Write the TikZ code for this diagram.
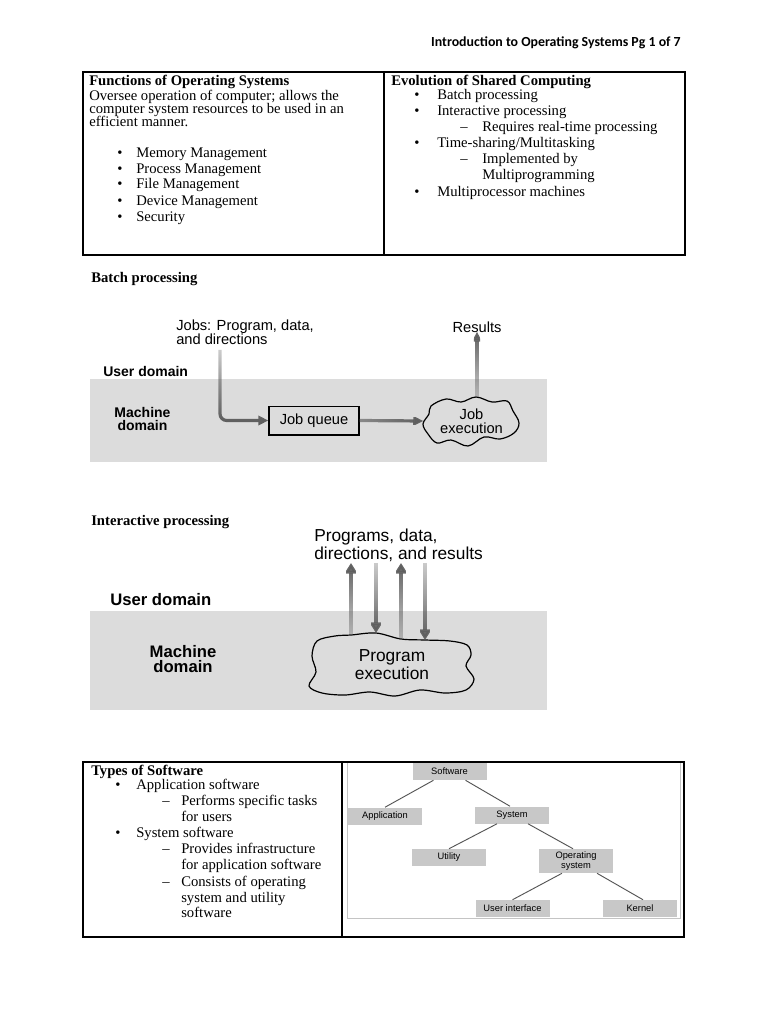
\documentclass[tikz,border=0pt]{standalone}
\usepackage{fontspec}
\setmainfont{Liberation Serif}
\newfontfamily\diasans{Liberation Sans}
\newfontfamily\hdrfont{Carlito}
\usetikzlibrary{arrows.meta,calc,fadings}
\definecolor{bandgray}{HTML}{DCDCDC}
\definecolor{arrgray}{HTML}{5E5E5E}
\definecolor{treebox}{HTML}{C8C8C8}
\definecolor{treeline}{HTML}{555555}
\definecolor{framegray}{HTML}{C4C4C4}
\tikzfading[name=fadebottom, top color=transparent!0, bottom color=transparent!70]
\tikzfading[name=fadetop, top color=transparent!70, bottom color=transparent!0]
\tikzfading[name=fadeleft, left color=transparent!35, right color=transparent!0]
\tikzset{
  body/.style={anchor=base west, inner sep=0, font=\fontsize{11}{13}\selectfont},
  bodyb/.style={anchor=base west, inner sep=0, font=\fontsize{11}{13}\selectfont\bfseries},
  tbl/.style={draw=black, line width=0.8pt},
  band/.style={fill=bandgray},
  lblA/.style={font=\diasans\fontsize{11}{10.5}\selectfont, inner sep=0},
  lblAb/.style={font=\diasans\bfseries\fontsize{10.5}{10}\selectfont, inner sep=0},
  lblB/.style={font=\diasans\fontsize{13}{11.5}\selectfont, inner sep=0},
  lblBb/.style={font=\diasans\bfseries\fontsize{12.5}{11}\selectfont, inner sep=0},
  garrowA/.style={draw=arrgray, line width=2.4pt, -{Triangle[length=7.5pt,width=7pt]}},
  garrowB/.style={draw=arrgray, line width=3.6pt, -{Triangle[length=8pt,width=9.5pt]}},
  cloudline/.style={draw=black, line width=0.9pt, fill=bandgray},
  tbox/.style={fill=treebox, minimum width=55.5pt, minimum height=12.75pt, inner sep=0, font=\diasans\fontsize{7}{7.5}\selectfont, align=center},
  tline/.style={draw=treeline, line width=0.7pt},
}
\begin{document}
\begin{tikzpicture}[x=0.75pt,y=-0.75pt]
\useasboundingbox (0,0) rectangle (768,1024);
\fill[white] (0,0) rectangle (768,1024);

% header
\node[anchor=base east, inner sep=0, font=\hdrfont\bfseries\fontsize{10.4}{12}\selectfont] (hdr) at (681,47) {Introduction to Operating Systems Pg 1 of 7};

% top table
\draw[tbl] (83,72) rectangle (685,255);
\draw[tbl] (384,72) -- (384,255);
\node[bodyb] (fh) at (89,85.5) {Functions of Operating Systems};
\node[body] (f1) at (89,100) {Oversee operation of computer; allows the};
\node[body] (f2) at (89,113.5) {computer system resources to be used in an};
\node[body] (f3) at (89,127) {efficient manner.};
\foreach \t/\y [count=\i] in {Memory Management/157, Process Management/173, File Management/188.5, Device Management/205, Security/221}{
  \node[body] (fb\i) at (117,\y) {•};
  \node[body] (ft\i) at (136,\y) {\t};
}
\node[bodyb] (eh) at (391,85.5) {Evolution of Shared Computing};
\node[body] (eb1) at (414,99.5) {•};  \node[body] (et1) at (437,99.5) {Batch processing};
\node[body] (eb2) at (414,115.5) {•}; \node[body] (et2) at (437,115.5) {Interactive processing};
\node[body] (ed1) at (460,131.5) {–}; \node[body] (es1) at (482,131.5) {Requires real-time processing};
\node[body] (eb3) at (414,147.5) {•}; \node[body] (et3) at (437,147.5) {Time-sharing/Multitasking};
\node[body] (ed2) at (460,163.5) {–}; \node[body] (es2) at (482,163.5) {Implemented by};
\node[body] (es3) at (482,179.5) {Multiprogramming};
\node[body] (eb4) at (414,196) {•}; \node[body] (et4) at (437,196) {Multiprocessor machines};

% batch processing
\node[bodyb] (bp) at (91,282) {Batch processing};
\fill[band] (90,379) rectangle (547,462);
\node[lblAb, anchor=west] (ud1) at (103,371) {User domain};
\node[lblAb, align=center] (md1) at (142.5,419) {Machine\\domain};
\node[lblA, anchor=west, align=left] (jobs) at (176,332) {Jobs: Program, data,\\and directions};
\node[lblA] (res) at (477,327) {Results};
\node[lblA, draw=black, line width=1pt, fill=bandgray, minimum width=67.5pt, minimum height=21.5pt] (jq) at (314,420.5) {Job queue};
\draw[cloudline] plot[smooth cycle, tension=0.6] coordinates {(431,406) (446,399) (461,402) (476,397) (492,402) (507,401) (513,411) (519,423) (514,433) (500,439) (484,437) (468,446) (451,440) (437,443) (428,434) (423,424) (429,414)};
\node[lblA, align=center, minimum width=72pt, minimum height=36pt] (jobex) at (471.5,421) {Job\\execution};
\coordinate (jobsfoot) at (220,350);
\draw[garrowA, rounded corners=5pt, path fading=fadetop] (jobsfoot) |- (jq.west);
\draw[garrowA, path fading=fadeleft] (jq.east) -- (jobex.west);
\draw[garrowA, path fading=fadebottom] (res.south |- jobex.north) -- ($(res.south)+(0,-1)$);

% interactive processing
\node[bodyb] (ip) at (91,525) {Interactive processing};
\fill[band] (90,611) rectangle (547,710);
\node[lblBb, anchor=west] (ud2) at (110,600) {User domain};
\node[lblBb, align=center] (md2) at (183,659) {Machine\\domain};
\node[lblB, anchor=west, align=left] (pdr) at (314,545.5) {Programs, data,\\directions, and results};
\draw[cloudline] plot[smooth cycle, tension=0.55] coordinates {(317,641) (335,636) (351,635) (376,633) (401,639) (425,640) (450,641) (467,645) (471,655) (466,666) (474,679) (466,690) (445,693) (420,690) (395,696) (370,692) (345,695) (322,693) (309,686) (316,672) (312,656)};
\node[lblB, align=center, minimum width=120pt, minimum height=46pt] (pe) at (392,664.5) {Program\\execution};
\coordinate (u1b) at (351,636); \coordinate (u1t) at (351,563);
\coordinate (d1t) at (376,563); \coordinate (d1b) at (376,633);
\coordinate (u2b) at (401,640); \coordinate (u2t) at (401,563);
\coordinate (d2t) at (425,563); \coordinate (d2b) at (425,640);
\draw[garrowB, path fading=fadebottom] (u1b) -- (u1t);
\draw[garrowB, path fading=fadetop] (d1t) -- (d1b);
\draw[garrowB, path fading=fadebottom] (u2b) -- (u2t);
\draw[garrowB, path fading=fadetop] (d2t) -- (d2b);

% bottom table
\draw[tbl] (83,762) rectangle (684,937);
\draw[tbl] (342,762) -- (342,937);
\node[bodyb] (th) at (91,775) {Types of Software};
\node[body] (tb1) at (115,789) {•}; \node[body] (tt1) at (136,789) {Application software};
\node[body] (td1) at (162,805) {–}; \node[body] (ts1) at (181,805) {Performs specific tasks};
\node[body] (ts2) at (181,821) {for users};
\node[body] (tb2) at (115,837) {•}; \node[body] (tt2) at (136,837) {System software};
\node[body] (td2) at (162,853) {–}; \node[body] (ts3) at (181,853) {Provides infrastructure};
\node[body] (ts4) at (181,869) {for application software};
\node[body] (td3) at (162,886) {–}; \node[body] (ts5) at (181,886) {Consists of operating};
\node[body] (ts6) at (181,902) {system and utility};
\node[body] (ts7) at (181,917.5) {software};

% tree
\draw[draw=framegray, line width=0.7pt] (347,763) -- (347,918) -- (680,918) -- (680,763);
\node[tbox] (sw) at (449.5,771.5) {Software};
\node[tbox] (app) at (385,816) {Application};
\node[tbox] (sys) at (512,815) {System};
\node[tbox] (util) at (449,857.5) {Utility};
\node[tbox, minimum height=18pt] (os) at (576,861) {Operating\\system};
\node[tbox] (ui) at (512.5,908.5) {User interface};
\node[tbox] (kern) at (640,908.5) {Kernel};
\draw[tline] ($(sw.south)+(-16,0)$) -- (app.north);
\draw[tline] ($(sw.south)+(16,0)$) -- ($(sys.north)+(-2,0)$);
\draw[tline] ($(sys.south)+(-15,0)$) -- (util.north);
\draw[tline] ($(sys.south)+(16,0)$) -- ($(os.north)+(-3,0)$);
\draw[tline] ($(os.south)+(-14,0)$) -- (ui.north);
\draw[tline] ($(os.south)+(21,0)$) -- ($(kern.north)+(3,0)$);
\end{tikzpicture}
\end{document}
